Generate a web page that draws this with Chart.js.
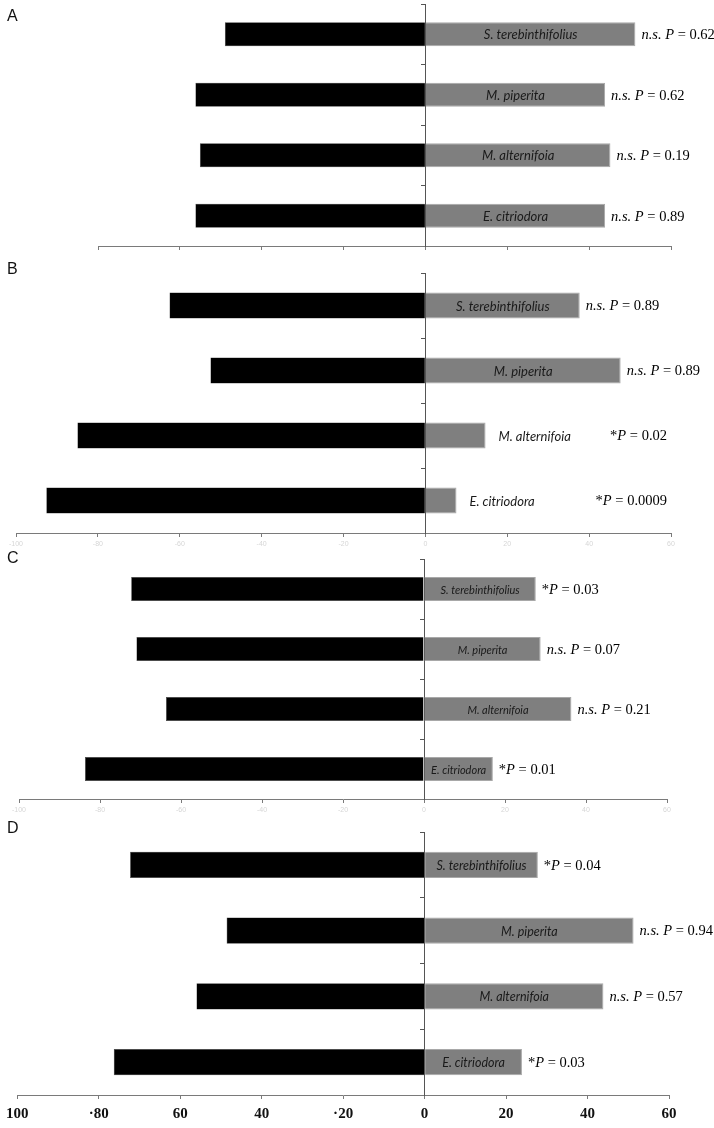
<!DOCTYPE html>
<html><head><meta charset="utf-8">
<script src="https://cdn.jsdelivr.net/npm/chart.js@4.4.1/dist/chart.umd.min.js"></script>
<style>
html,body{margin:0;padding:0;background:#fff;}
#wrap{position:relative;width:714px;height:1128px;overflow:hidden;background:#fff;}
canvas{position:absolute;left:0;}
.lbl{position:absolute;left:7px;font:16px 'Liberation Sans',Arial,sans-serif;line-height:16px;color:#111;}
</style></head><body><div id="wrap"></div>
<script>
const categories = ["S. terebinthifolius", "M. piperita", "M. alternifoia", "E. citriodora"];
const panelNames = ["A", "B", "C", "D"];

const blackA = [-49, -56.2, -55.1, -56.2];
const grayA  = [51.3, 43.9, 45.2, 43.9];
const sigA   = ["n.s.", "n.s.", "n.s.", "n.s."];
const pA     = ["0.62", "0.62", "0.19", "0.89"];

const blackB = [-62.5, -52.5, -85, -92.6];
const grayB  = [37.7, 47.7, 14.7, 7.6];
const sigB   = ["n.s.", "n.s.", "*", "*"];
const pB     = ["0.89", "0.89", "0.02", "0.0009"];

const blackC = [-72.3, -71, -63.7, -83.7];
const grayC  = [27.6, 28.8, 36.4, 17];
const sigC   = ["*", "n.s.", "n.s.", "*"];
const pC     = ["0.03", "0.07", "0.21", "0.01"];

const blackD = [-72.3, -48.6, -56, -76.3];
const grayD  = [27.8, 51.3, 43.9, 23.9];
const sigD   = ["*", "n.s.", "n.s.", "*"];
const pD     = ["0.04", "0.94", "0.57", "0.03"];

const tickLabels = ["100", "·80", "60", "40", "·20", "0", "20", "40", "60"];
const faintTickLabels = ["-100", "-80", "-60", "-40", "-20", "0", "20", "40", "60"];
const tickValues = [-100, -80, -60, -40, -20, 0, 20, 40, 60];

const panels = [
  {name: "A", black: blackA, gray: grayA, sig: sigA, p: pA, top: 4,   bottom: 246,  left: 98, right: 671, min: -80,  mode: "none",  nameSize: 13,   letterTop: 7.5},
  {name: "B", black: blackB, gray: grayB, sig: sigB, p: pB, top: 273, bottom: 533,  left: 16, right: 671, min: -100, mode: "faint", nameSize: 13,   letterTop: 260.5},
  {name: "C", black: blackC, gray: grayC, sig: sigC, p: pC, top: 559, bottom: 799,  left: 19, right: 667, min: -100, mode: "faint", nameSize: 11,   letterTop: 549.5},
  {name: "D", black: blackD, gray: grayD, sig: sigD, p: pD, top: 832, bottom: 1095, left: 16, right: 669, min: -100, mode: "bold",  nameSize: 12.5, letterTop: 819.5}
];

const PFONT = '14.5px "Liberation Serif", "Times New Roman", serif';

const annot = {
  id: 'annot',
  afterDatasetsDraw(chart) {
    const o = chart.options.plugins.annot;
    const c = chart.ctx;
    const meta = chart.getDatasetMeta(1);
    meta.data.forEach((bar, i) => {
      const x0 = Math.min(bar.x, bar.base), x1 = Math.max(bar.x, bar.base), y = bar.y;
      c.save();
      c.fillStyle = '#1a1a1a';
      c.textBaseline = 'middle';
      c.font = 'italic ' + o.nameSize + 'px Lato, "Liberation Sans", sans-serif';
      const name = categories[i];
      const w = c.measureText(name).width;
      const inside = w + 6 <= (x1 - x0);
      if (inside) {
        c.textAlign = 'center';
        c.fillText(name, (x0 + x1) / 2, y + 1);
      } else {
        c.textAlign = 'left';
        c.fillText(name, x1 + 13, y + 1);
      }
      const segs = o.sig[i] === 'n.s.'
        ? [['n.s. ', 'italic '], ['P', 'italic '], [' = ' + o.p[i], '']]
        : [['*', ''], ['P', 'italic '], [' = ' + o.p[i], '']];
      let total = 0;
      segs.forEach(s => { c.font = s[1] + PFONT; s.push(c.measureText(s[0]).width); total += s[2]; });
      let px = inside ? x1 + 6 : chart.chartArea.right - total - 4;
      c.textAlign = 'left';
      c.fillStyle = '#000';
      segs.forEach(s => { c.font = s[1] + PFONT; c.fillText(s[0], px, y + 1); px += s[2]; });
      c.restore();
    });
  }
};

const wrap = document.getElementById('wrap');
panels.forEach(pn => {
  const padTop = 2, axisH = 30, padBottom = 2;
  const cTop = pn.top - padTop;
  const cH = pn.bottom - cTop + axisH + padBottom;
  const cv = document.createElement('canvas');
  cv.style.top = cTop + 'px';
  cv.style.width = '714px';
  cv.style.height = cH + 'px';
  cv.width = 714; cv.height = cH;
  wrap.appendChild(cv);

  const lb = document.createElement('div');
  lb.className = 'lbl';
  lb.style.top = pn.letterTop + 'px';
  lb.textContent = pn.name;
  wrap.appendChild(lb);

  let tickFont, tickColor, tickDisplay = true;
  if (pn.mode === 'bold') { tickFont = {family: '"Liberation Serif", "Times New Roman", serif', size: 15, weight: 'bold'}; tickColor = '#111'; }
  else if (pn.mode === 'faint') { tickFont = {family: '"Liberation Sans", sans-serif', size: 7}; tickColor = '#d6d6d6'; }
  else { tickDisplay = false; tickFont = {size: 7}; tickColor = '#fff'; }

  new Chart(cv, {
    type: 'bar',
    data: {
      labels: categories,
      datasets: [
        {data: pn.black, backgroundColor: '#000000', borderColor: '#3a3a3a', borderWidth: 0.5, barPercentage: 0.4, categoryPercentage: 1},
        {data: pn.gray, backgroundColor: '#7f7f7f', borderColor: '#a8a8a8', borderWidth: 1, barPercentage: 0.4, categoryPercentage: 1}
      ]
    },
    options: {
      indexAxis: 'y',
      responsive: false,
      animation: false,
      devicePixelRatio: 1,
      layout: {padding: {top: padTop, bottom: padBottom, left: pn.left, right: 714 - pn.right}},
      plugins: {legend: {display: false}, tooltip: {enabled: false}, annot: {sig: pn.sig, p: pn.p, nameSize: pn.nameSize}},
      scales: {
        x: {
          type: 'linear', min: pn.min, max: 60, stacked: true,
          ticks: {
            display: tickDisplay, stepSize: 20, autoSkip: false, maxRotation: 0, minRotation: 0, padding: pn.mode === 'bold' ? 6 : 3,
            font: tickFont, color: tickColor,
            callback: v => {
              const k = tickValues.indexOf(v);
              if (k < 0) return '';
              return pn.mode === 'bold' ? tickLabels[k] : faintTickLabels[k];
            }
          },
          grid: {drawOnChartArea: false, drawTicks: true, tickLength: 4, color: '#7a7a7a'},
          border: {display: true, color: '#7a7a7a', width: 1},
          afterFit: s => { s.height = axisH; }
        },
        y: {
          type: 'category', stacked: true, position: {x: 0},
          ticks: {display: false},
          grid: {drawOnChartArea: false, drawTicks: true, tickLength: 4, color: '#555', offset: true},
          border: {display: true, color: '#555', width: 1}
        }
      }
    },
    plugins: [annot]
  });
});
</script>
</body></html>
